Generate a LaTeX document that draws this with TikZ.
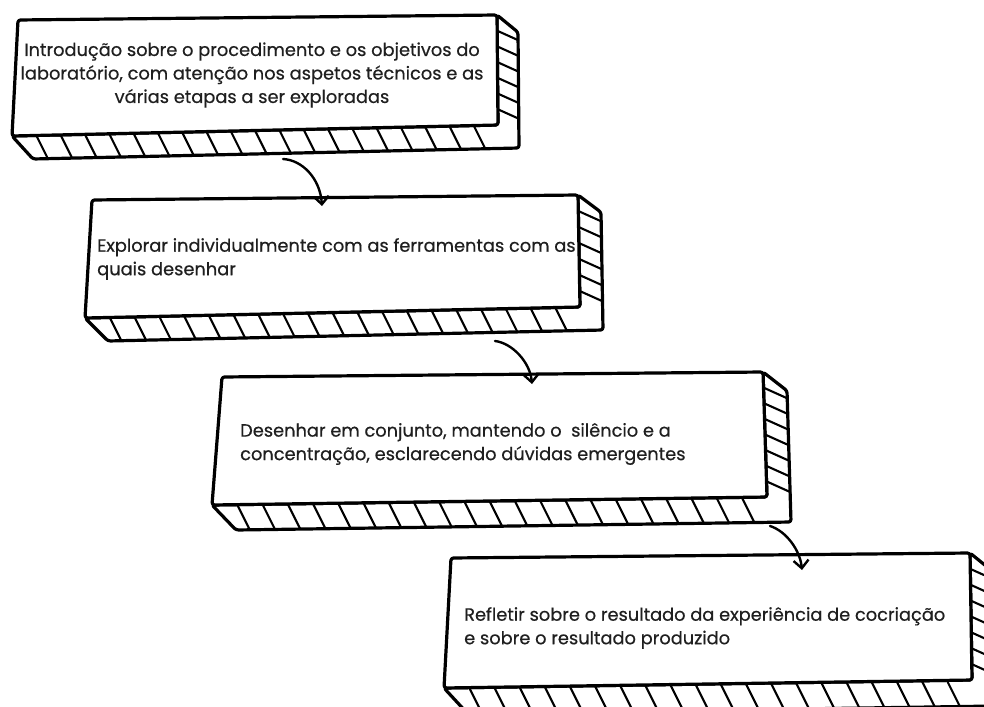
\documentclass[tikz,border=0pt]{standalone}
\usepackage{fontspec}
\setmainfont{Poppins}[FakeBold=0.5]
\usetikzlibrary{arrows.meta,calc}
\tikzset{
  edge/.style={line width=3.2pt, line join=round, line cap=round, rounded corners=2.5pt},
  hatch/.style={line width=2.1pt, line cap=round},
  txt/.style={font=\fontsize{17.8}{23.5}\selectfont, inner sep=0pt, text=black!88},
  arr/.style={line width=2.4pt, line cap=round, -{Straight Barb[length=8pt,width=15pt,line width=2.4pt]}}
}
\newcommand\skbox[5]{%
  \draw[edge, fill=white] (#1bl) -- (#1br) -- (#1tr) -- ($(#1tr)+(#2,#3*0.75)$) -- ($(#1br)+(#2,#3)$) -- ($(#1bl)+(#2,#3)$) -- cycle;
  \foreach \i in {1,...,#4} {
    \pgfmathsetmacro\tt{\i/(#4+1)}
    \draw[hatch] ($(#1bl)!\tt!(#1br)$) -- ++(0.5*#3, #3);
  }
  \foreach \i in {1,...,#5} {
    \pgfmathsetmacro\tt{\i/(#5+1)}
    \draw[hatch] ($(#1tr)!\tt!(#1br)$) -- ++(#2, 0.45*#2);
  }
  \draw[edge, fill=white] (#1tl) -- (#1tr) -- (#1br) -- (#1bl) -- cycle;
}
\begin{document}
\begin{tikzpicture}[x=1pt,y=-1pt]
\useasboundingbox (0,0) rectangle (984,706);
\fill[white] (0,0) rectangle (984,706);
\clip (0,0) rectangle (984,706);
% box 1
\coordinate (b1tl) at (18,20); \coordinate (b1tr) at (497,15);
\coordinate (b1br) at (498,125); \coordinate (b1bl) at (12,136);
\skbox{b1}{21}{23}{19}{6}
% box 2
\coordinate (b2tl) at (92,200); \coordinate (b2tr) at (578,195);
\coordinate (b2br) at (580,307); \coordinate (b2bl) at (85,318);
\skbox{b2}{23}{23}{19}{6}
% box 3
\coordinate (b3tl) at (222,377); \coordinate (b3tr) at (763,372);
\coordinate (b3br) at (767,497); \coordinate (b3bl) at (212,505);
\skbox{b3}{24}{25}{21}{7}
% box 4
\coordinate (b4tl) at (451,558); \coordinate (b4tr) at (970,553);
\coordinate (b4br) at (972,680); \coordinate (b4bl) at (444,688);
\skbox{b4}{24}{26}{20}{7}
% texts
\node[txt, align=center] (t1) at (252,75) {Introdução sobre o procedimento e os objetivos do\\laboratório, com atenção nos aspetos técnicos e as\\várias etapas a ser exploradas};
\node[txt, align=left, anchor=west] (t2) at (97,259) {Explorar individualmente com as ferramentas com as\\quais desenhar};
\node[txt, align=left, anchor=west] (t3) at (240,444) {Desenhar em conjunto, mantendo o\ \ silêncio e a\\concentração, esclarecendo dúvidas emergentes};
\node[txt, align=left, anchor=west] (t4) at (464,628) {Refletir sobre o resultado da experiência de cocriação\\e sobre o resultado produzido};
% arrows
\coordinate (a1s) at (283,159); \coordinate (a1e) at (322,206);
\coordinate (a2s) at (495,341); \coordinate (a2e) at (532,384);
\coordinate (a3s) at (770,526); \coordinate (a3e) at (802,570);
\draw[arr] (a1s) .. controls (302,160) and (320,178) .. (a1e);
\draw[arr] (a2s) .. controls (512,343) and (530,362) .. (a2e);
\draw[arr] (a3s) .. controls (786,531) and (800,550) .. (a3e);
\end{tikzpicture}
\end{document}
